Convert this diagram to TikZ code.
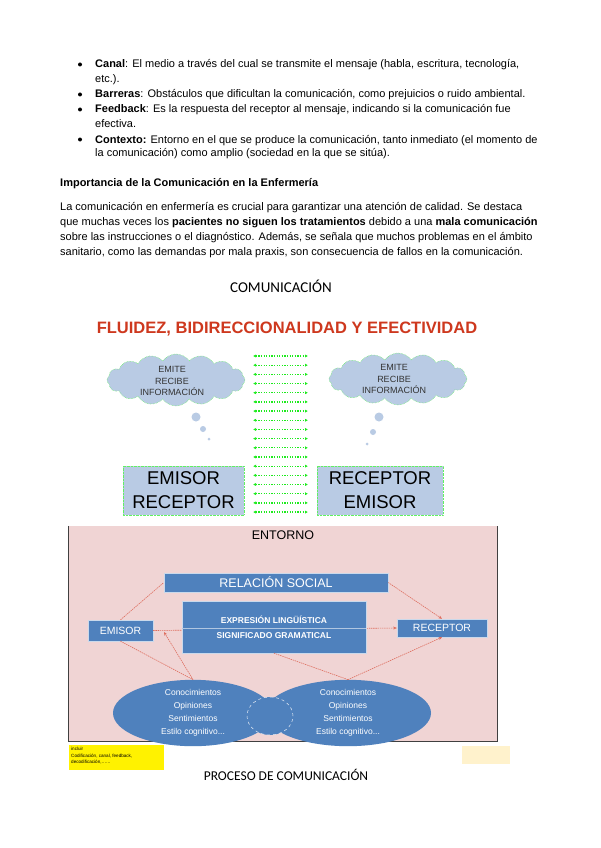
\documentclass[tikz,border=0pt]{standalone}
\usepackage{fontspec}
\setmainfont{Liberation Sans}
\newfontfamily\calibri{Carlito}
\usetikzlibrary{shapes.symbols, shapes.geometric, arrows.meta, positioning}

\definecolor{cloudblue}{RGB}{185,203,228}
\definecolor{boxblue}{RGB}{79,129,189}
\definecolor{titlered}{RGB}{206,56,30}
\definecolor{envpink}{RGB}{240,212,212}
\definecolor{linkred}{RGB}{222,110,95}
\definecolor{flowgreen}{RGB}{30,235,30}
\definecolor{notecream}{RGB}{255,242,204}

\tikzset{
  bodyline/.style={anchor=base west, inner sep=0pt, font=\fontsize{11}{13}\selectfont},
  bulletdot/.style={circle, fill=black, inner sep=0pt, minimum size=4pt},
  thought/.style={cloud, cloud puffs=16, cloud puff arc=110, aspect=2.6, fill=cloudblue, draw=flowgreen!70,
    densely dotted, line width=0.5pt, minimum width=138pt, minimum height=52pt, inner sep=0pt},
  thoughttext/.style={align=center, inner sep=0pt, text=black!80, font=\fontsize{9}{11.5}\selectfont},
  bubble/.style={circle, fill=cloudblue, inner sep=0pt},
  rolebox/.style={rectangle, fill=cloudblue, draw=flowgreen!70, densely dotted, line width=0.4pt,
    align=center, inner sep=0pt, font=\fontsize{18.5}{24}\selectfont},
  flow/.style={{Latex[length=3pt,width=3.2pt]}-{Latex[length=3pt,width=3.2pt]}, flowgreen,
    line width=1.3pt, dash pattern=on 1.3pt off 1.3pt},
  bluebox/.style={rectangle, fill=boxblue, draw=white!70!boxblue, line width=0.4pt,
    text=white, inner sep=0pt, align=center},
  blob/.style={ellipse, fill=boxblue, inner sep=0pt, text=white, align=center,
    font=\fontsize{8.5}{13}\selectfont},
  link/.style={linkred, line width=0.6pt, dash pattern=on 1.4pt off 0.8pt},
  linkto/.style={link, -{Stealth[length=3.5pt,width=3pt]}}
}

\begin{document}
\begin{tikzpicture}[x=1pt, y=-1pt]
  \useasboundingbox[fill=white] (0,0) rectangle (600,848);

  \node[bulletdot] (b1) at (80,64.5) {};
  \node[bulletdot] (b2) at (80,94.5) {};
  \node[bulletdot] (b3) at (80,109.5) {};
  \node[bulletdot] (b4) at (80,139.5) {};
  \node[bodyline] (l1) at (95,68) {\textbf{Canal}: El medio a través del cual se transmite el mensaje (habla, escritura, tecnología,};
  \node[bodyline] (l2) at (95,83) {etc.).};
  \node[bodyline] (l3) at (95,98) {\textbf{Barreras}: Obstáculos que dificultan la comunicación, como prejuicios o ruido ambiental.};
  \node[bodyline] (l4) at (95,113) {\textbf{Feedback}: Es la respuesta del receptor al mensaje, indicando si la comunicación fue};
  \node[bodyline] (l5) at (95,128) {efectiva.};
  \node[bodyline] (l6) at (95,143) {\textbf{Contexto:} Entorno en el que se produce la comunicación, tanto inmediato (el momento de};
  \node[bodyline] (l7) at (95,157) {la comunicación) como amplio (sociedad en la que se sitúa).};

  \node[bodyline] (head) at (60,186) {\textbf{Importancia de la Comunicación en la Enfermería}};
  \node[bodyline] (p1) at (60,210) {La comunicación en enfermería es crucial para garantizar una atención de calidad. Se destaca};
  \node[bodyline] (p2) at (60,225) {que muchas veces los \textbf{pacientes no siguen los tratamientos} debido a una \textbf{mala comunicación}};
  \node[bodyline] (p3) at (60,240) {sobre las instrucciones o el diagnóstico. Además, se señala que muchos problemas en el ámbito};
  \node[bodyline] (p4) at (60,255) {sanitario, como las demandas por mala praxis, son consecuencia de fallos en la comunicación.};

  \node[font=\calibri\fontsize{15}{17}\selectfont] (comtitle) at (281,286) {COMUNICACIÓN};
  \node[font=\bfseries\fontsize{16.5}{18}\selectfont, text=titlered] (redtitle) at (287,329) {FLUIDEZ, BIDIRECCIONALIDAD Y EFECTIVIDAD};

  \node[thought] (cloudL) at (176,380) {};
  \node[thought] (cloudR) at (398,379) {};
  \node[thoughttext] (textL) at (172,381) {EMITE\\RECIBE\\INFORMACIÓN};
  \node[thoughttext] (textR) at (394,379) {EMITE\\RECIBE\\INFORMACIÓN};
  \node[bubble, minimum size=9pt] (bl1) at (196,417) {};
  \node[bubble, minimum size=6pt] (bl2) at (203,429) {};
  \node[bubble, minimum size=3pt] (bl3) at (209,439) {};
  \node[bubble, minimum size=9pt] (br1) at (379,417) {};
  \node[bubble, minimum size=6pt] (br2) at (373,432) {};
  \node[bubble, minimum size=3pt] (br3) at (367,444) {};

  \node[rolebox, minimum width=121pt, minimum height=49pt] (emrec) at (183.5,490.5) {EMISOR\\RECEPTOR};
  \node[rolebox, minimum width=126pt, minimum height=49pt] (recem) at (380,490.5) {RECEPTOR\\EMISOR};

  \foreach \i in {0,...,17} {
    \coordinate (fl\i) at (253,{356+9.18*\i});
    \coordinate (fr\i) at (308,{356+9.18*\i});
    \draw[flow] (fl\i) -- (fr\i);
  }

  \node[rectangle, fill=envpink, minimum width=428pt, minimum height=215pt, inner sep=0pt] (env) at (283,633.5) {};
  \draw[black!75, line width=1pt] (env.north west) -- (env.south west) -- (env.south east) -- (env.north east);
  \node[font=\fontsize{12.5}{14}\selectfont] (entorno) at (283,535) {ENTORNO};

  \node[bluebox, minimum width=224pt, minimum height=19pt, font=\fontsize{12.5}{14}\selectfont] (rel) at (276,582.5) {RELACIÓN SOCIAL};
  \node[bluebox, minimum width=65pt, minimum height=21pt, font=\fontsize{10.5}{12}\selectfont] (emisor) at (120.5,630.5) {EMISOR};
  \node[bluebox, minimum width=90pt, minimum height=18pt, font=\fontsize{10.5}{12}\selectfont] (receptor) at (442,628) {RECEPTOR};
  \coordinate (emisorin) at (164,632);

  \draw[linkto] (emisor.east) -- (receptor.west);
  \node[bluebox, minimum width=184pt, minimum height=52pt, font=\bfseries\fontsize{8.5}{15}\selectfont] (expr) at (274,627) {EXPRESIÓN LINGÜÍSTICA\\SIGNIFICADO GRAMATICAL};
  \draw[white!55!boxblue, line width=0.8pt] (expr.west |- receptor.west) -- (expr.east |- receptor.west);

  \node[blob, minimum width=166pt, minimum height=60pt] (ellR) at (348,713) {Conocimientos\\Opiniones\\Sentimientos\\Estilo cognitivo...};
  \node[blob, minimum width=160pt, minimum height=60pt] (ellL) at (193,713) {Conocimientos\\Opiniones\\Sentimientos\\Estilo cognitivo...};
  \node[ellipse, fill=boxblue, draw=white!85!boxblue, dashed, line width=0.5pt, minimum width=46pt, minimum height=38pt, inner sep=0pt] (mid) at (270,716) {};

  \draw[link] (emisor.north) -- (rel.west);
  \draw[linkto] (rel.east) -- (receptor.north);
  \draw[link] (emisor.south) -- (ellL.north);
  \draw[linkto] (ellL.north) -- (emisorin);
  \draw[link] (expr.south) -- (ellR.north);
  \draw[linkto] (ellR.north) -- (receptor.south);

  \node[rectangle, fill=yellow, minimum width=95pt, minimum height=25pt, inner sep=0pt] (note) at (116.5,757) {};
  \node[anchor=north west, inner sep=0pt, align=left, font=\fontsize{4.6}{6.5}\selectfont] (notetext) at (71,747) {incluir\\Codificación, canal, feedback,\\decodificación,……};
  \node[rectangle, fill=notecream, minimum width=48pt, minimum height=18pt, inner sep=0pt] (cream) at (486,755) {};

  \node[font=\calibri\fontsize{13.5}{16}\selectfont] (proctitle) at (286,775) {PROCESO DE COMUNICACIÓN};
\end{tikzpicture}
\end{document}
